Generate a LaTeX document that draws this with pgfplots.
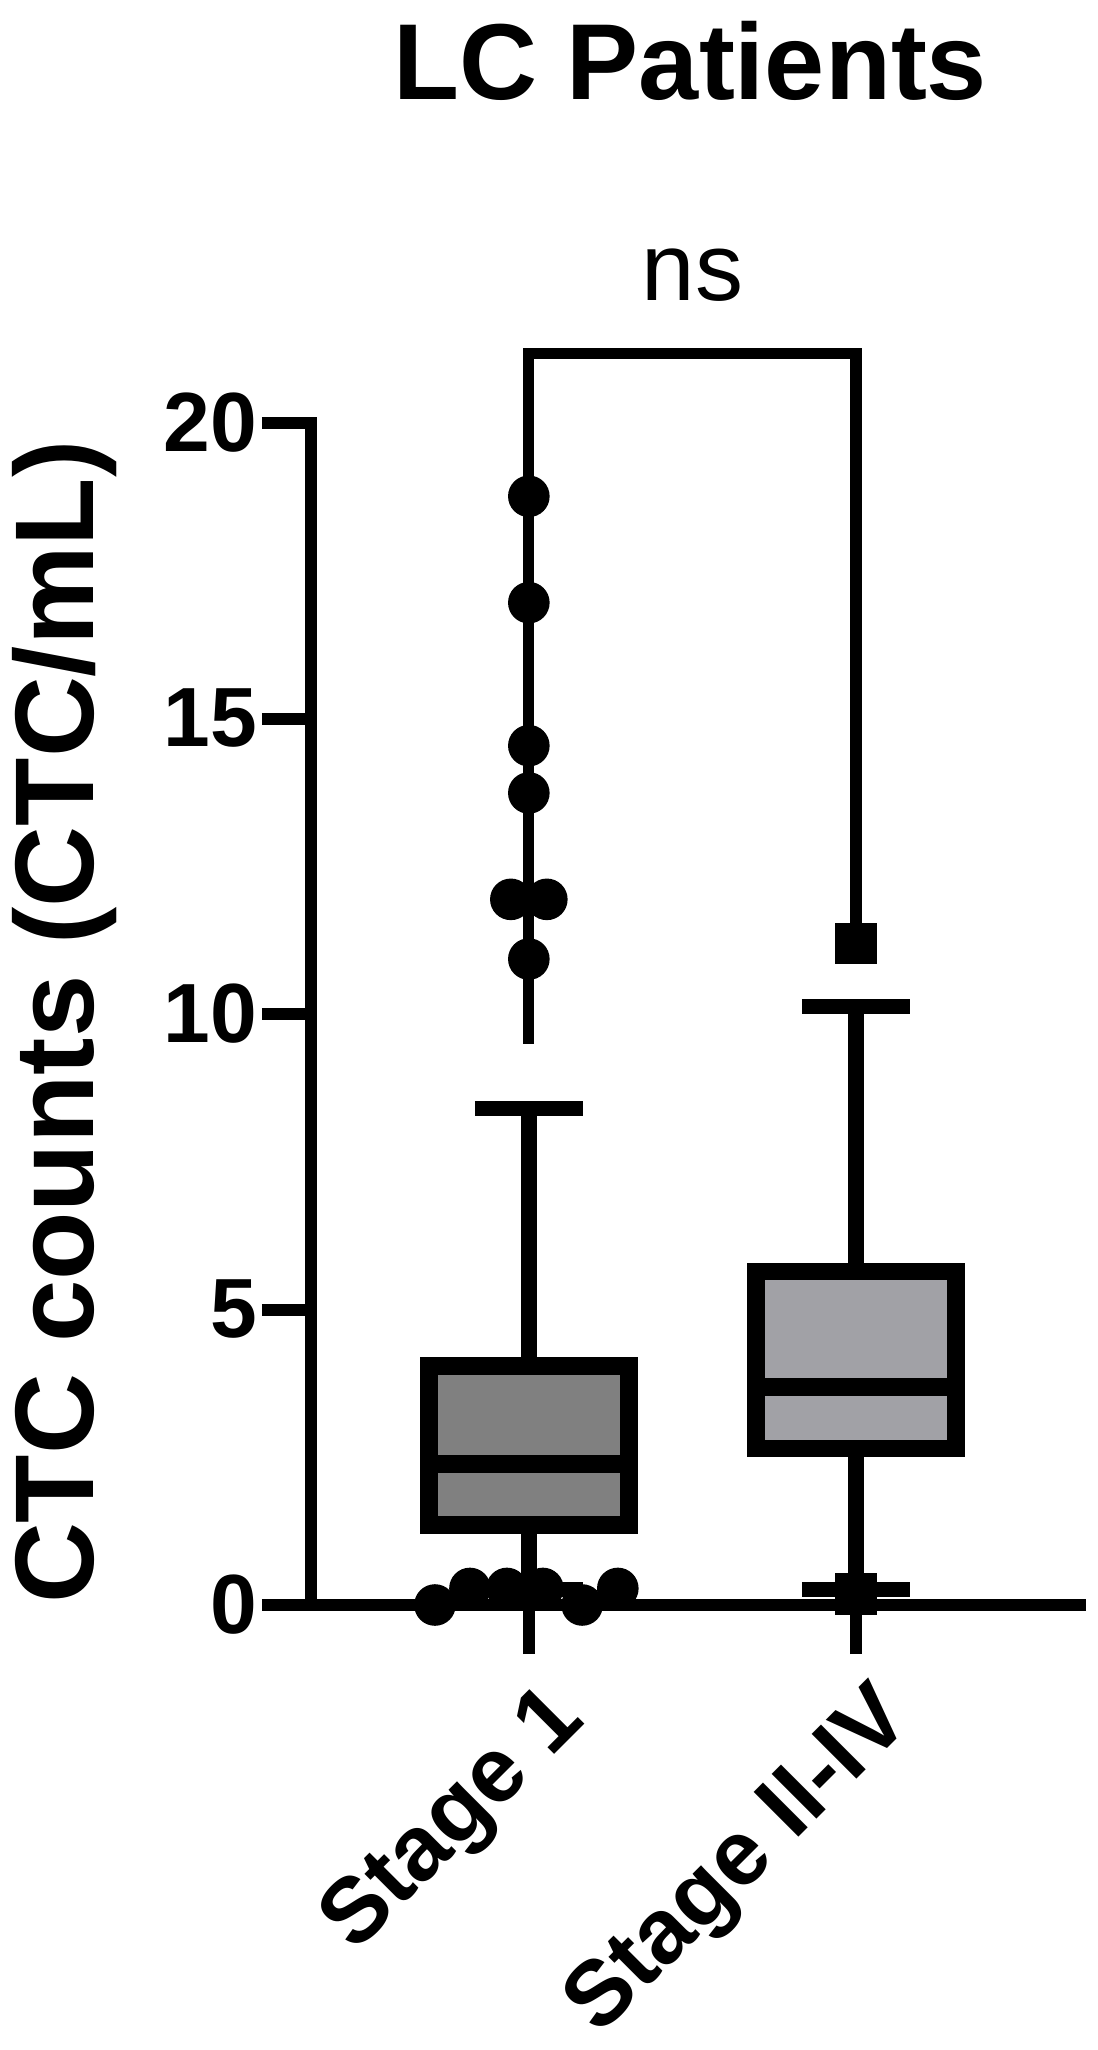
\documentclass[border=0pt]{standalone}
\usepackage{fontspec}
\setmainfont{Liberation Sans}
\usepackage{pgfplots}
\pgfplotsset{compat=1.18}
\usepgfplotslibrary{statistics}

\definecolor{boxA}{RGB}{128,128,128}
\definecolor{boxB}{RGB}{161,161,166}

\begin{document}
\begin{tikzpicture}
\path[use as bounding box] (0,0) rectangle (274.5pt,512.5pt);
\begin{axis}[
  at={(77.75pt,111.25pt)}, anchor=south west,
  scale only axis,
  width=192.25pt, height=295.5pt,
  xmin=0.334, xmax=2.685,
  ymin=0, ymax=20,
  clip=false,
  boxplot/draw direction=y,
  axis x line=bottom, axis y line=left,
  axis line style={-, line width=3pt, line cap=rect},
  tick align=outside,
  major tick length=12.25pt,
  every tick/.style={black, line width=3pt},
  xtick={1,2},
  xticklabels={Stage 1, Stage II-IV},
  ytick={0,5,10,15,20},
  /pgf/number format/assume math mode=true,
  yticklabel style={font=\fontsize{21}{21}\selectfont\bfseries, inner sep=1pt},
  xticklabel style={rotate=45, anchor=north east, inner sep=0pt,
    yshift=-6pt, xshift=-1.5pt,
    font=\fontsize{23}{23}\selectfont\bfseries},
]

% Stage 1 box
\addplot[black, boxplot prepared={
  draw position=1,
  lower whisker=0.26, lower quartile=1.35, median=2.39,
  upper quartile=4.04, upper whisker=8.40,
  box extend=0.612, whisker extend=0.33,
  every box/.style={draw=black, fill=boxA, line width=4.4pt},
  every whisker/.style={black, line width=3.9pt},
  every median/.style={black, line width=4.4pt}}]
  coordinates {};

% Stage II-IV box
\addplot[black, boxplot prepared={
  draw position=2,
  lower whisker=0.26, lower quartile=2.65, median=3.69,
  upper quartile=5.64, upper whisker=10.13,
  box extend=0.612, whisker extend=0.33,
  every box/.style={draw=black, fill=boxB, line width=4.4pt},
  every whisker/.style={black, line width=3.9pt},
  every median/.style={black, line width=4.4pt}}]
  coordinates {};

% significance bracket
\addplot[black, line width=2.8pt, line join=miter, line cap=butt]
  coordinates {(1,9.5) (1,21.18) (2,21.18) (2,11.45)};

% Stage 1 points outside whiskers
\addplot[only marks, mark=*, mark size=5pt, black] coordinates {
  (1,18.76) (1,16.96) (1,14.54) (1,13.74)
  (0.945,11.94) (1.055,11.94) (1,10.93)
  (0.713,0) (0.82,0.28) (0.933,0.28) (1.043,0.28) (1.163,0) (1.272,0.28)
};

% Stage II-IV points outside whiskers
\addplot[only marks, mark=square*, mark size=5pt, black] coordinates {
  (2,11.19) (2,0.19)
};

\node[font=\fontsize{27}{27}\selectfont\bfseries, anchor=base]
  at (axis cs:1.493,25.47) {LC Patients};
\node[font=\fontsize{24}{24}\selectfont, anchor=base]
  at (axis cs:1.5,22.08) {ns};
\node[font=\fontsize{28}{28}\selectfont\bfseries, rotate=90, anchor=base]
  at (axis cs:-0.33,9.86) {CTC counts (CTC/mL)};
\end{axis}
\end{tikzpicture}
\end{document}
